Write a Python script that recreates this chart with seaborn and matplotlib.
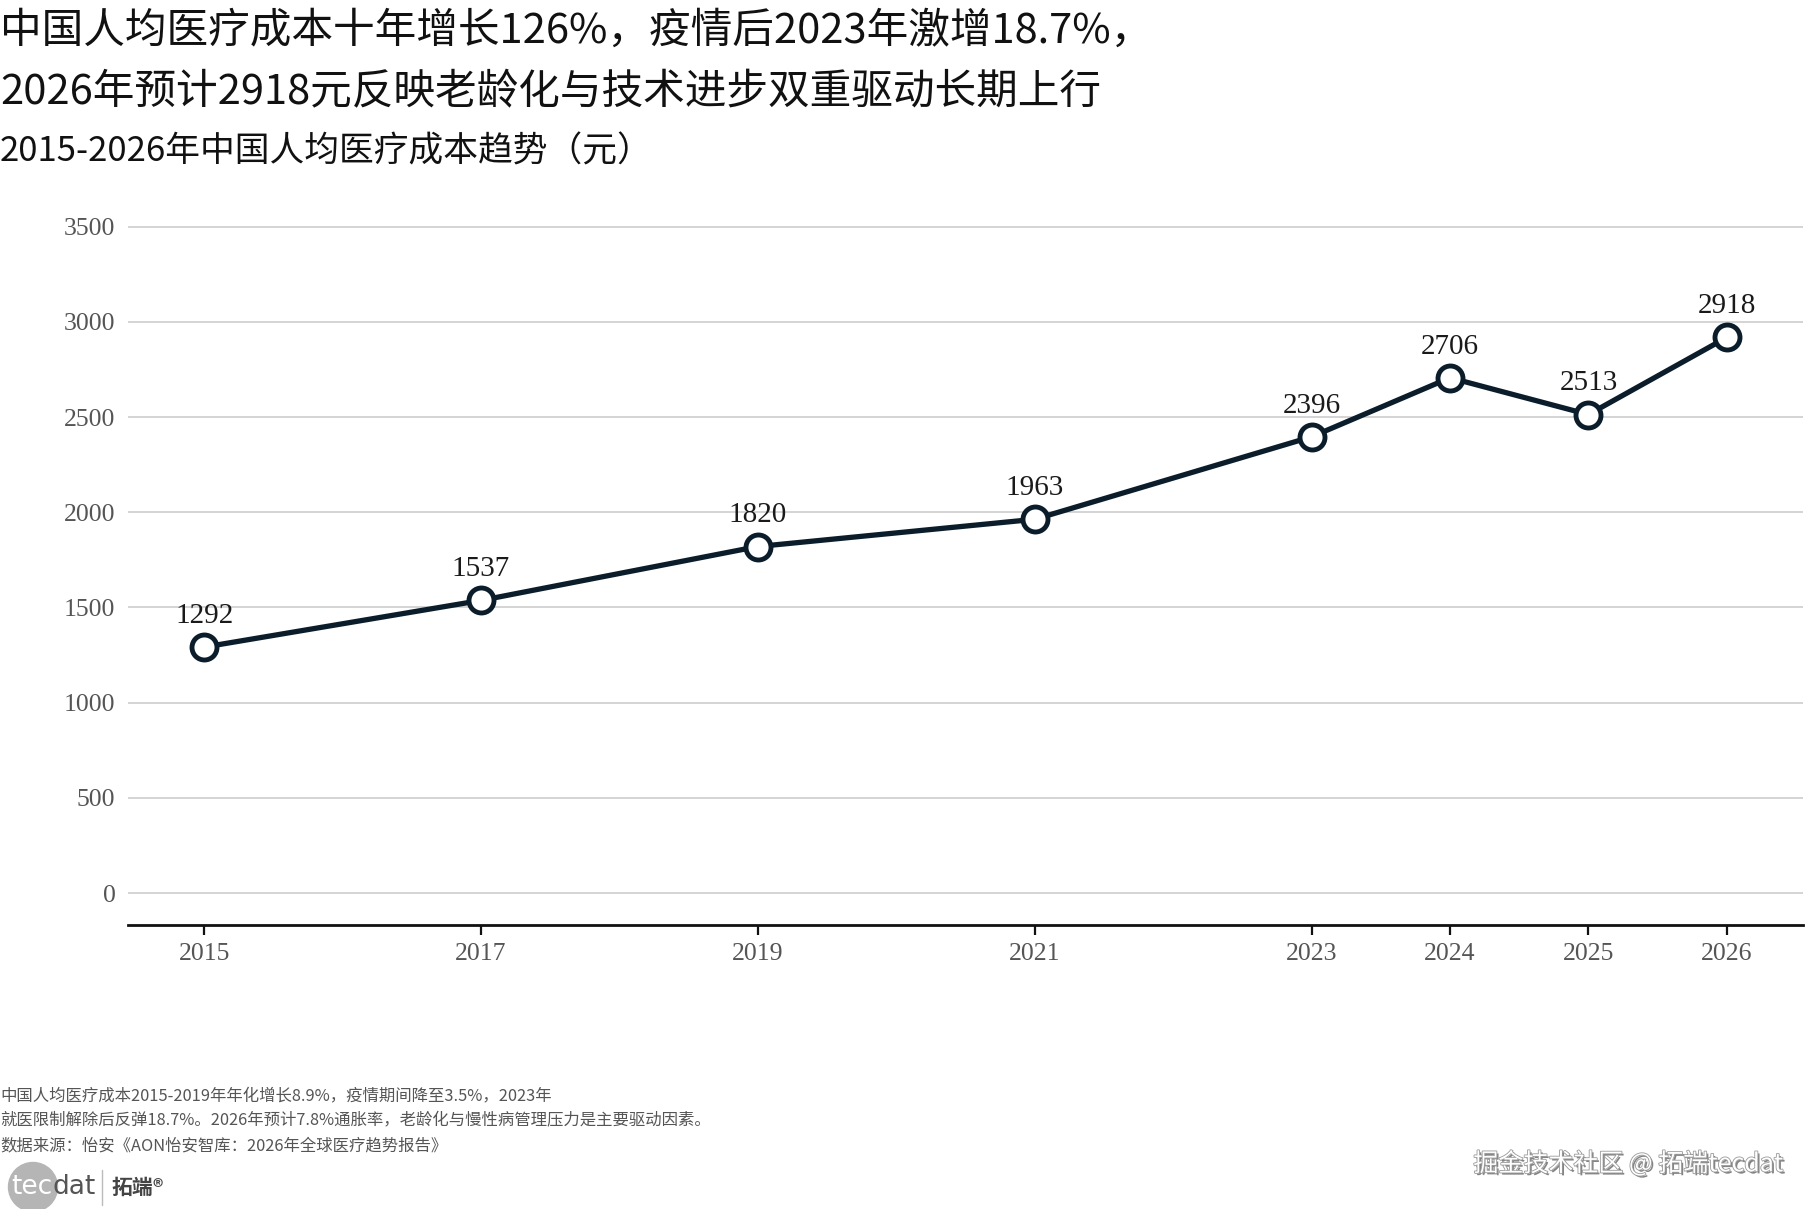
import matplotlib
matplotlib.use("Agg")
import matplotlib.pyplot as plt
import matplotlib.patheffects as pe
from matplotlib.patches import Circle
import seaborn as sns
import pandas as pd

# data
years = [2015, 2017, 2019, 2021, 2023, 2024, 2025, 2026]
cost = [1292, 1537, 1820, 1963, 2396, 2706, 2513, 2918]
y_ticks = [0, 500, 1000, 1500, 2000, 2500, 3000, 3500]

title_lines = ["中国人均医疗成本十年增长126%，疫情后2023年激增18.7%，",
               "2026年预计2918元反映老龄化与技术进步双重驱动长期上行"]
subtitle = "2015-2026年中国人均医疗成本趋势（元）"
notes = [
    "中国人均医疗成本2015-2019年年化增长8.9%，疫情期间降至3.5%，2023年",
    "就医限制解除后反弹18.7%。2026年预计7.8%通胀率，老龄化与慢性病管理压力是主要驱动因素。",
    "数据来源：怡安《AON怡安智库：2026年全球医疗趋势报告》",
]

df = pd.DataFrame({"year": years, "cost": cost})

sns.set_theme(style="white")
plt.rcParams["font.family"] = ["Noto Sans CJK SC", "DejaVu Sans"]
serif = ["Liberation Serif", "DejaVu Serif"]

W, H = 1814, 1209
fig = plt.figure(figsize=(W / 100, H / 100), dpi=100)
ax = fig.add_axes([128 / W, 1 - 925 / H, (1803 - 128) / W, (925 - 217) / H])

line_col = "#0b1d2a"
sns.lineplot(data=df, x="year", y="cost", ax=ax, color=line_col, linewidth=3.8,
             marker="o", markersize=18, markerfacecolor="white",
             markeredgecolor=line_col, markeredgewidth=3.5, zorder=3)

for x, y in zip(years, cost):
    ax.annotate(f"{y}", (x, y), xytext=(0, 13), textcoords="offset points",
                ha="center", va="bottom", fontsize=21, family=serif, color="#1a1a1a")

ax.set_xlim(2014.45, 2026.55)
ax.set_ylim(-167, 3550)
ax.set_xticks(years)
ax.set_yticks(y_ticks)
ax.set_xlabel("")
ax.set_ylabel("")
for lab in ax.get_xticklabels() + ax.get_yticklabels():
    lab.set_family(serif)
    lab.set_fontsize(18.5)
    lab.set_color("#555555")

ax.grid(axis="y", color="#d4d4d4", linewidth=1.4)
ax.grid(axis="x", visible=False)
for s in ["top", "right", "left"]:
    ax.spines[s].set_visible(False)
ax.spines["bottom"].set_color("#111111")
ax.spines["bottom"].set_linewidth(2)
ax.tick_params(axis="x", bottom=True, length=7, width=1.6, color="#111111", pad=6)
ax.tick_params(axis="y", left=False, pad=3)

# titles
fig.text(0, 1 - 31 / H, title_lines[0], ha="left", va="center", fontsize=30, color="#111111")
fig.text(0, 1 - 93 / H, title_lines[1], ha="left", va="center", fontsize=30, color="#111111")
fig.text(0, 1 - 152 / H, subtitle, ha="left", va="center", fontsize=25, color="#111111")

# footer notes
for i, n in enumerate(notes):
    fig.text(0, 1 - (1096 + i * 25) / H, n, ha="left", va="center", fontsize=11.8,
             color="#555555")

# logo
fig.patches.append(Circle((0.33, (H - 1187) / 100), 0.245, transform=fig.dpi_scale_trans,
                          color="#b5b5b5", zorder=0, figure=fig))
t1 = fig.text(11 / W, 1 - 1187 / H, "tec", ha="left", va="center", fontsize=19,
              color="white", family=["DejaVu Sans"])
fig.canvas.draw()
bb = t1.get_window_extent()
fig.text(bb.x1 / W, 1 - 1187 / H, "dat", ha="left", va="center", fontsize=19,
         color="#555555", family=["DejaVu Sans"])
fig.add_artist(plt.Line2D([102 / W, 102 / W], [1 - 1170 / H, 1 - 1205 / H],
                          color="#bbbbbb", linewidth=1))
fig.text(111 / W, 1 - 1187 / H, "拓端®", ha="left", va="center", fontsize=15,
         color="#444444", fontweight="bold")

# watermark
fig.text(1783 / W, 1 - 1164 / H, "掘金技术社区 @ 拓端tecdat", ha="right", va="center",
         fontsize=18, color="#ffffff",
         path_effects=[pe.withSimplePatchShadow(offset=(1.5, -1.5), shadow_rgbFace="#666666", alpha=0.8),
                       pe.Stroke(linewidth=1.2, foreground="#999999"), pe.Normal()])

fig.savefig("out.png", dpi=100)
